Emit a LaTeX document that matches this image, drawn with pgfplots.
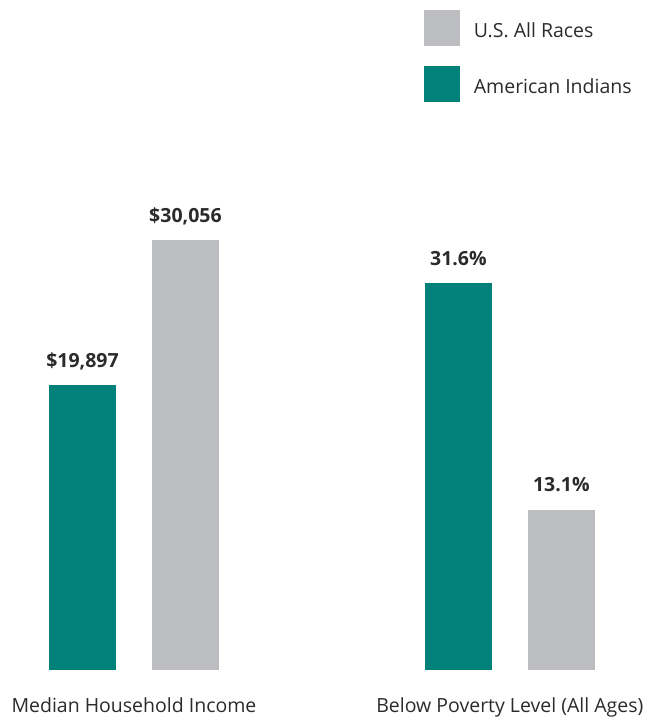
\documentclass[border=0pt]{standalone}
\usepackage{fontspec}
\setmainfont{Open Sans}
\usepackage{pgfplots}
\pgfplotsset{compat=1.18}
\definecolor{aiteal}{HTML}{00827A}
\definecolor{usgray}{HTML}{BCBDC1}
\definecolor{txt}{HTML}{2B2B2B}
\pgfplotsset{
  base/.style={
    width=652pt, height=719pt, scale only axis,
    xmin=0, xmax=652,
    axis line style={draw=none}, major tick length=0pt,
    ytick=\empty, xtick=\empty,
    clip=false, ybar, bar width=67pt, bar shift=0pt,
    nodes near coords, point meta=explicit symbolic,
    every node near coord/.append style={anchor=base, yshift=18pt,
      font=\fontsize{19.5}{23}\selectfont\bfseries, text=txt},
  },
  sq/.style={legend image code/.code={\fill[##1] (0pt,-15pt) rectangle (36pt,21pt);}},
}
\begin{document}
\begin{tikzpicture}
\begin{axis}[base, ymin=-3425, ymax=46831,
  xtick={134,510},
  xticklabels={Median Household Income, Below Poverty Level (All Ages)},
  xticklabel style={anchor=base, yshift=6pt, inner sep=0pt, outer sep=0pt,
    font=\fontsize{19.5}{23}\selectfont, text=txt},
  legend style={at={(0.6503,0.9861)}, anchor=north west, draw=none, fill=none,
    inner sep=0pt, outer sep=0pt, row sep=20pt, column sep=14pt,
    font=\fontsize{19.5}{23}\selectfont, text=txt, nodes={inner sep=0pt}},
  legend cell align=left]
\addplot[fill=usgray, draw=none, sq] coordinates {(185.5,30056) [{\$30,056}]};
\addlegendentry{U.S. All Races}
\addplot[fill=aiteal, draw=none, sq] coordinates {(82.5,19897) [{\$19,897}]};
\addlegendentry{American Indians}
\end{axis}
\begin{axis}[base, ymin=-4.001, ymax=54.708]
\addplot[fill=aiteal, draw=none] coordinates {(458.5,31.6) [{31.6\%}]};
\addplot[fill=usgray, draw=none] coordinates {(561.5,13.1) [{13.1\%}]};
\end{axis}
\end{tikzpicture}
\end{document}
